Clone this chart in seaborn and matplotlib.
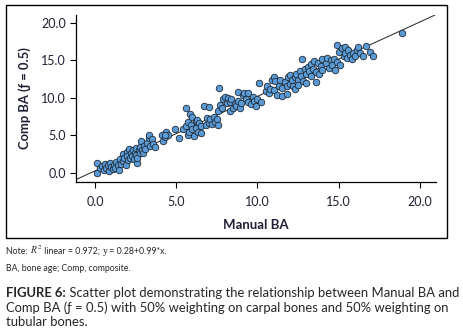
import numpy as np
import pandas as pd
import seaborn as sns
import matplotlib.pyplot as plt
from matplotlib.patches import Rectangle

# Manual BA (x) vs Comp BA (y)
manual_ba = [
    0.15, 0.15, 0.3, 0.45, 0.55, 0.6, 0.7, 0.8, 0.85, 0.95, 1.0, 1.1, 1.15, 1.25, 1.3, 1.4, 1.45,
    1.55, 1.6, 1.7, 1.75, 1.8, 1.9, 1.95, 2.0, 2.05, 2.1, 2.15, 2.2, 2.3, 2.35, 2.4, 2.45, 2.5,
    2.55, 2.6, 2.6, 2.7, 2.75, 2.8, 2.85, 2.9, 2.95,
    3.0, 3.1, 3.2, 3.3, 3.35, 3.4, 3.5, 3.6, 3.7, 4.1, 4.2, 4.3, 4.4, 4.5, 4.9, 4.3,
    5.2, 5.4, 5.6, 5.6, 5.7, 5.7, 5.8, 5.85, 5.9, 6.0, 6.0, 6.1, 6.2, 6.2, 6.3, 6.35, 6.4,
    6.5, 6.5, 6.7, 6.85, 6.9, 7.0,
    7.0, 7.1, 7.2, 7.3, 7.4, 7.5, 7.6, 7.65, 7.6, 7.7, 7.8, 7.9, 8.0, 8.1, 8.2, 8.3, 8.3,
    8.4, 8.5, 8.6, 8.7, 8.8, 8.9, 8.8, 9.0,
    9.1, 9.2, 9.3, 9.4, 9.4, 9.6, 9.7, 9.8, 9.9, 10.0, 10.2, 10.1, 10.5, 10.6, 10.7, 10.8,
    10.9, 11.0, 11.0, 11.1, 11.2, 11.3, 11.4, 11.5, 11.5, 11.7, 11.8, 11.8, 11.9, 12.0,
    12.0, 12.1, 12.2, 12.3, 12.3, 12.4, 12.5, 12.5, 12.6, 12.7, 12.75, 12.8, 12.9, 13.0,
    13.0, 13.1, 13.2, 13.3, 13.3, 13.4, 13.5, 13.6, 13.6, 13.7, 13.8, 13.9, 14.0, 14.0,
    14.2, 14.3, 14.4, 14.5, 14.6, 14.7, 14.8, 14.9,
    14.9, 15.0, 15.1, 15.2, 15.3, 15.4, 15.4, 15.5, 15.6, 15.7, 15.8, 15.9, 16.0, 16.1,
    16.2, 16.3, 16.5, 16.7, 16.9, 17.1, 18.9,
]
comp_ba = [
    0.0, 1.35, 0.6, 0.9, 0.4, 1.2, 0.7, 1.0, 0.3, 1.3, 0.8, 0.5, 1.1, 0.7, 1.5, 1.0, 0.4,
    1.8, 1.2, 2.5, 1.6, 2.0, 1.1, 2.8, 2.3, 1.7, 3.2, 2.0, 2.6, 2.2, 3.0, 1.8, 2.7, 3.3,
    2.4, 1.3, 2.0, 3.0, 2.6, 3.4, 4.2, 3.0, 2.6,
    3.6, 3.2, 4.0, 4.6, 5.1, 3.6, 4.5, 3.8, 3.5, 5.1, 4.3, 4.8, 5.4, 5.1, 5.9, 5.0,
    4.6, 5.9, 8.6, 6.2, 5.0, 6.8, 5.5, 7.8, 6.4, 7.4, 5.8, 4.9, 6.9, 6.0, 7.0, 5.4, 6.6,
    6.2, 5.3, 8.9, 6.4, 7.3, 8.8,
    6.6, 7.2, 6.5, 7.5, 6.8, 7.2, 6.4, 11.3, 8.2, 9.1, 8.6, 9.8, 10.1, 9.3, 10.0, 9.4, 8.2,
    9.8, 8.6, 9.2, 8.9, 9.6, 8.7, 10.8, 9.3,
    10.3, 10.6, 9.8, 9.4, 10.6, 9.2, 10.1, 9.6, 8.9, 9.8, 9.5, 11.9, 10.9, 11.5, 10.6, 11.2,
    12.3, 12.8, 11.0, 12.2, 10.4, 11.6, 12.4, 11.3, 10.2, 12.1, 11.5, 10.5, 12.7, 11.8,
    13.0, 12.3, 11.6, 12.8, 11.2, 13.2, 12.4, 11.7, 13.6, 12.9, 15.1, 12.2, 13.8, 13.1,
    12.0, 14.1, 13.5, 14.5, 12.9, 13.8, 14.9, 12.1, 13.4, 14.6, 13.1, 14.2, 15.2, 13.7,
    14.6, 15.3, 14.0, 15.0, 14.3, 15.2, 13.7, 14.8,
    17.0, 16.1, 14.4, 16.6, 15.6, 16.8, 15.9, 15.3, 16.3, 15.7, 15.2, 16.0, 15.5, 16.4,
    16.8, 15.9, 15.6, 16.9, 16.1, 15.5, 18.6,
]
intercept, slope = 0.28, 0.99
ticks = [0, 5, 10, 15, 20]

df = pd.DataFrame({'manual': manual_ba, 'comp': comp_ba})

sns.set_style('white')
plt.rcParams['font.family'] = ['Lato', 'DejaVu Sans']
plt.rcParams['mathtext.fontset'] = 'stix'

fig = plt.figure(figsize=(4.64, 3.30), dpi=100)
ax = fig.add_axes([0.163, 0.4494, 0.777, 0.5051])

# frame around the chart panel
fig.patches.append(Rectangle((6 / 464, 1 - 238 / 330), 441 / 464, 233 / 330,
                             transform=fig.transFigure, fill=False,
                             edgecolor='black', linewidth=1.0))

ax.axline((0, intercept), slope=slope, color='#222222', linewidth=0.7, zorder=1)
sns.scatterplot(data=df, x='manual', y='comp', ax=ax, s=22, color='#5b9bd5',
                edgecolor='#1e2a38', linewidth=0.6, zorder=2)

ax.set_xlim(-1.19, 21.0)
ax.set_ylim(-1.16, 21.0)
ax.set_xticks(ticks)
ax.set_yticks(ticks)
ax.set_xticklabels([f'{t:.1f}' for t in ticks])
ax.set_yticklabels([f'{t:.1f}' for t in ticks])
ax.tick_params(axis='both', direction='out', length=4, width=0.8, color='black',
               labelsize=9, labelcolor='#1f2035', bottom=True, left=True, pad=3)
ax.tick_params(axis='x', pad=6)
for side in ['top', 'right']:
    ax.spines[side].set_visible(False)
for side in ['left', 'bottom']:
    ax.spines[side].set_color('black')
    ax.spines[side].set_linewidth(0.9)

ax.set_xlabel('Manual BA', fontsize=9.5, fontweight='bold', color='#1f2035', labelpad=8)
ax.set_ylabel('Comp BA (ƒ = 0.5)', fontsize=9.4, fontweight='bold', color='#1f2035', labelpad=7)


def chain(prev, text, **kw):
    # place a text piece right after the previous one on the same line
    return ax.annotate(text, xy=(1, 0), xycoords=prev, va='bottom', ha='left',
                       annotation_clip=False, **kw)


note_fs = 6.3
t = fig.text(6 / 464, 1 - 256 / 330, 'Note: ', fontsize=note_fs, va='bottom', ha='left')
t = chain(t, r'$R^2$', fontsize=note_fs + 0.6)
t = chain(t, ' linear = 0.972; ', fontsize=note_fs)
t = chain(t, 'y', fontsize=note_fs + 0.8, family='Liberation Serif')
t = chain(t, ' = 0.28+0.99*x.', fontsize=note_fs)
fig.text(6 / 464, 1 - 273 / 330, 'BA, bone age; Comp, composite.', fontsize=note_fs,
         va='bottom', ha='left')

cap_fs = 9.4
cap_lines = [
    'Scatter plot demonstrating the relationship between Manual BA and',
    'Comp BA (ƒ = 0.5) with 50% weighting on carpal bones and 50% weighting on',
    'tubular bones.',
]
t = fig.text(6 / 464, 1 - 299 / 330, 'FIGURE 6:', fontsize=cap_fs, fontweight='bold',
             va='bottom', ha='left')
chain(t, ' ' + cap_lines[0], fontsize=cap_fs)
fig.text(6 / 464, 1 - 314 / 330, cap_lines[1], fontsize=cap_fs, va='bottom', ha='left')
fig.text(6 / 464, 1 - 328 / 330, cap_lines[2], fontsize=cap_fs, va='bottom', ha='left')

fig.savefig('out.png', dpi=100)
